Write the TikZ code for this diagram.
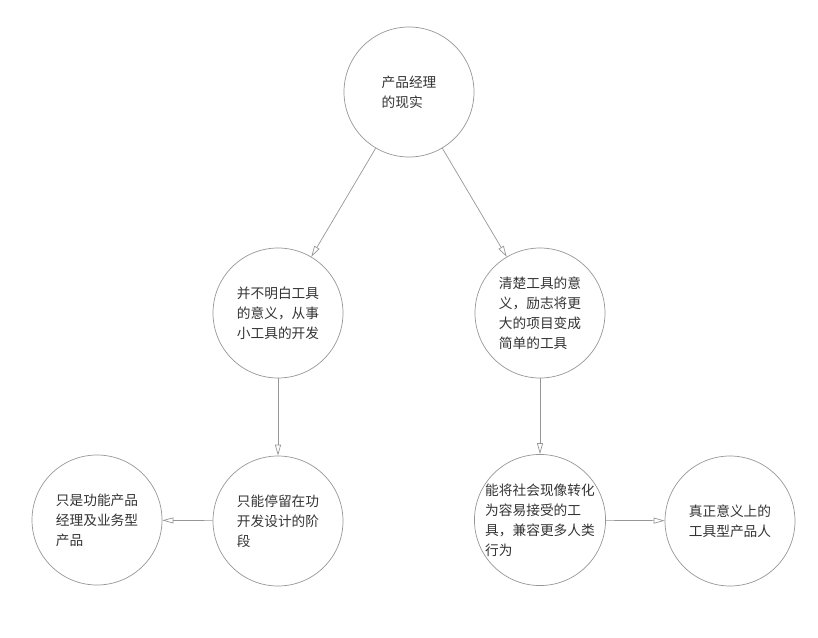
\documentclass[tikz,border=0pt]{standalone}
\usepackage{fontspec}
\setmainfont{Noto Sans CJK SC}
\usetikzlibrary{arrows.meta}

\definecolor{linegray}{RGB}{150,150,150}
\definecolor{textgray}{RGB}{51,51,51}

\tikzset{
  bubble/.style={draw=linegray, line width=0.7pt, circle, minimum size=130pt, inner sep=0pt,
    text=textgray, align=left, font=\fontsize{13.7}{20}\selectfont},
  flow/.style={draw=linegray, line width=0.7pt, -{Triangle[open, length=11pt, width=6pt]}}
}

\begin{document}
\begin{tikzpicture}[x=1pt,y=-1pt]
\useasboundingbox (0,0) rectangle (818,637);

\node [bubble] (real) at (409,92) {产品经理\\的现实};
\node [bubble] (unclear) at (278,313) {并不明白工具\\的意义，从事\\小工具的开发};
\node [bubble] (clear) at (540,313) {清楚工具的意\\义，励志将更\\大的项目变成\\简单的工具};

\node [bubble] (stay) at (278,521) {只能停留在功\\开发设计的阶\\段};
\node [bubble] (only) at (97,520) {只是功能产品\\经理及业务型\\产品};
\node [bubble] (turn) at (540,520) {能将社会现像转化\\为容易接受的工\\具，兼容更多人类\\行为};
\node [bubble] (tool) at (730,521) {真正意义上的\\工具型产品人};

\draw [flow] (real) -- (unclear);
\draw [flow] (real) -- (clear);
\draw [flow] (unclear) -- (stay);
\draw [flow] (clear) -- (turn);
\draw [flow] (stay) -- (only);
\draw [flow] (turn) -- (tool);

\end{tikzpicture}
\end{document}
